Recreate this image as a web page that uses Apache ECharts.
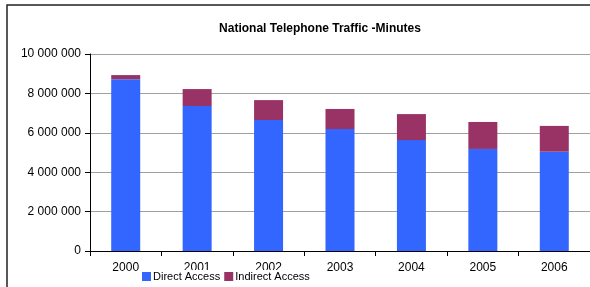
<!DOCTYPE html>
<html>
<head>
<meta charset="utf-8">
<script src="https://cdn.jsdelivr.net/npm/echarts@6/dist/echarts.min.js"></script>
<style>
html,body{margin:0;padding:0;background:#fff;}
#main{width:590px;height:287px;}
</style>
</head>
<body>
<div id="main"></div>
<script>
// years on the x axis
var years = ['2000', '2001', '2002', '2003', '2004', '2005', '2006'];
// minutes
var directAccess = [8720000, 7360000, 6650000, 6190000, 5630000, 5180000, 5040000];
var indirectAccess = [210000, 860000, 1010000, 1020000, 1320000, 1370000, 1310000];

//千位用空格分开
function fmt(v){
	return String(v).replace(/\B(?=(\d{3})+(?!\d))/g, ' ');
}

var myChart = echarts.init(document.getElementById('main'));
myChart.setOption({
	animation: false,
	title: {
		text: 'National Telephone Traffic -Minutes',
		left: 315,
		textAlign: 'center',
		top: 18,
		textStyle: {fontFamily: 'Liberation Sans', fontSize: 12, fontWeight: 'bold', color: '#000'}
	},
	graphic: [{
		type: 'rect',
		shape: {x: 7, y: 5, width: 600, height: 300},
		style: {fill: 'none', stroke: '#222', lineWidth: 1.5},
		silent: true
	}],
	legend: {
		left: 139,
		top: 270,
		padding: [1, 3, 1, 3],
		backgroundColor: '#fff',
		itemWidth: 9,
		itemHeight: 9,
		itemGap: 4,
		icon: 'rect',
		z: 10,
		textStyle: {fontFamily: 'Liberation Sans', fontSize: 11, color: '#000', padding: [0, 0, 0, -3]},
		data: ['Direct Access', 'Indirect Access']
	},
	grid: {left: 90, top: 54, width: 503, height: 197},
	xAxis: {
		type: 'category',
		data: years,
		axisLine: {lineStyle: {color: '#000', width: 1}},
		axisTick: {show: true, length: 5, lineStyle: {color: '#000'}},
		axisLabel: {fontFamily: 'Liberation Sans', fontSize: 12, color: '#000', margin: 11}
	},
	yAxis: {
		type: 'value',
		min: 0,
		max: 10000000,
		interval: 2000000,
		axisLine: {show: true, lineStyle: {color: '#000', width: 1}},
		axisTick: {show: true, length: 5, lineStyle: {color: '#000'}},
		splitLine: {lineStyle: {color: '#a0a0a0', width: 1}},
		axisLabel: {
			fontFamily: 'Liberation Sans', fontSize: 12, color: '#000', margin: 9,
			formatter: function(v){ return fmt(v); }
		}
	},
	series: [{
		name: 'Direct Access',
		type: 'bar',
		stack: 'total',
		barWidth: 29,
		itemStyle: {color: '#3366ff'},
		data: directAccess
	}, {
		name: 'Indirect Access',
		type: 'bar',
		stack: 'total',
		barWidth: 29,
		itemStyle: {color: '#993366'},
		data: indirectAccess
	}]
});
</script>
</body>
</html>
